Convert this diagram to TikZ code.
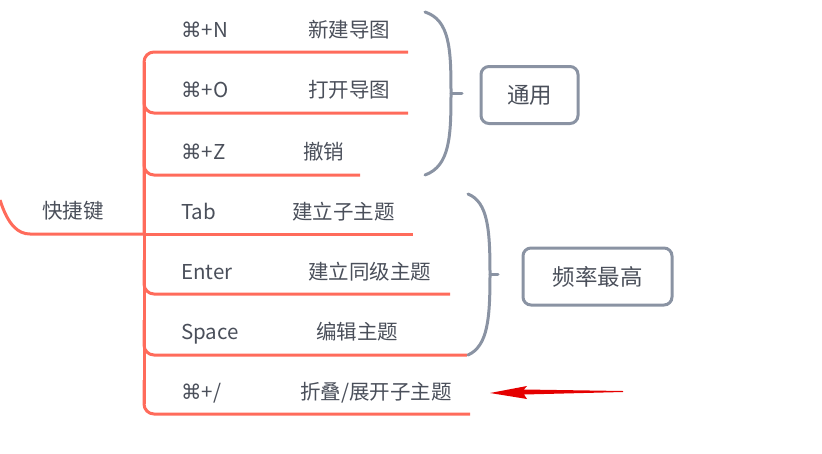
\documentclass[tikz,border=0pt]{standalone}
\usepackage{fontspec}
\setmainfont{Noto Sans CJK SC}
\newfontfamily\symf{DejaVu Sans}
\definecolor{br}{HTML}{FF6B5B}
\definecolor{gr}{HTML}{8A93A3}
\definecolor{tx}{HTML}{4A4F5A}
\begin{document}
\begin{tikzpicture}[x=1pt,y=-1pt,
  lbl/.style={anchor=base west,text=tx,font=\fontsize{20.5}{22}\selectfont,inner sep=0},
  br/.style={draw=br,line width=3pt,rounded corners=10pt},
  gb/.style={draw=gr,line width=3pt,line cap=round},
  box/.style={draw=gr,line width=3pt,rounded corners=8pt,text=tx,font=\fontsize{22.5}{24}\selectfont,minimum height=57pt}]
\useasboundingbox (0,0) rectangle (822,453);
\coordinate (r) at (144,234);
\draw[br] (0,200) .. controls (8,225) and (18,234) .. (40,234) -- (r);
\draw[draw=br,line width=3pt] (144,62) -- (144,404);
\draw[br] (144,234) -- (144,52) -- (408,52);
\draw[br] (144,90) |- (408,113);
\draw[br] (144,150) |- (360,175);
\draw[br] (144,234) -- (413,234);
\draw[br] (144,260) |- (450,294);
\draw[br] (144,320) |- (467,355);
\draw[br] (144,380) |- (470,414);
\node[lbl] (k) at (42,218) {快捷键};
\node[lbl] (a1) at (181,37) {{\symf ⌘}+N};   \node[lbl] (b1) at (308,37) {新建导图};
\node[lbl] (a2) at (181,97) {{\symf ⌘}+O};   \node[lbl] (b2) at (308,97) {打开导图};
\node[lbl] (a3) at (181,159) {{\symf ⌘}+Z};  \node[lbl] (b3) at (303,159) {撤销};
\node[lbl] (a4) at (181,219) {Tab};          \node[lbl] (b4) at (292,219) {建立子主题};
\node[lbl] (a5) at (181,279) {Enter};        \node[lbl] (b5) at (308,279) {建立同级主题};
\node[lbl] (a6) at (181,339) {Space};        \node[lbl] (b6) at (316,339) {编辑主题};
\node[lbl] (a7) at (181,399) {{\symf ⌘}+/};  \node[lbl] (b7) at (300,399) {折叠/展开子主题};
\draw[gb] (425,12) .. controls (450,20) and (451,50) .. (451,93) .. controls (451,136) and (450,166) .. (425,175);
\draw[gb] (451,93) -- (462,93);
\node[box,minimum width=97pt] (g1) at (529.5,95) {通用};
\draw[gb] (468,194) .. controls (488,202) and (490,230) .. (490,274) .. controls (490,318) and (488,346) .. (468,355);
\draw[gb] (490,274) -- (498,274);
\node[box,minimum width=149pt] (g2) at (597.5,276.5) {频率最高};
\coordinate (t1) at (623,391);
\coordinate (t2) at (490,393);
\fill[red!90!black] (t1) -- (524,389.5) -- (527,386) -- (t2) -- (527,399) -- (524,394.5) -- (623,392) -- cycle;
\end{tikzpicture}
\end{document}
